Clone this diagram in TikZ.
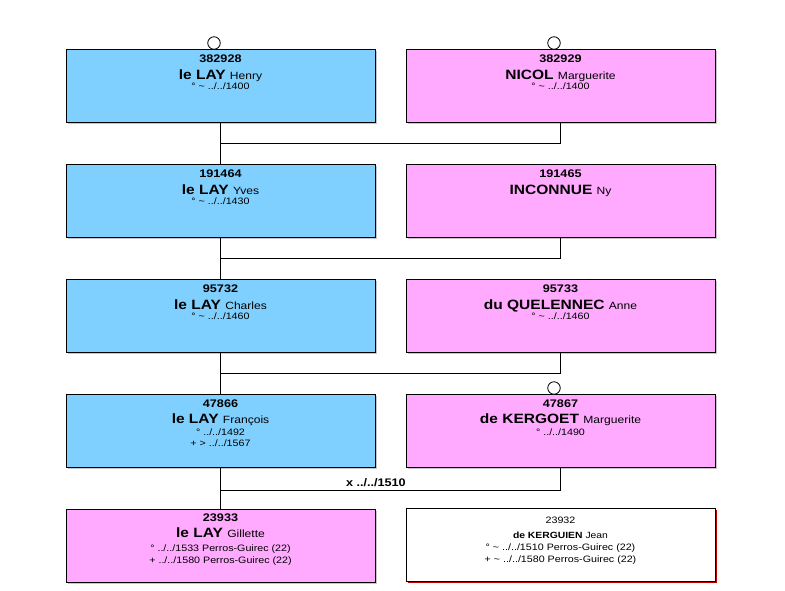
\documentclass[tikz,border=0pt]{standalone}
\usepackage{fontspec}
\setmainfont{Liberation Sans}[FakeStretch=1.15]
\usetikzlibrary{calc,shadows}
\definecolor{mblue}{RGB}{128,208,255}
\definecolor{mpink}{RGB}{255,170,255}
\newcommand\gnNum{\bfseries\fontsize{11}{13}\selectfont}
\newcommand\gnSur{\bfseries\fontsize{13.5}{15}\selectfont}
\newcommand\gnGiv{\mdseries\fontsize{10.5}{12}\selectfont}
\newcommand\gnDate{\mdseries\fontsize{9.3}{11}\selectfont}
\newcommand\gnSmall{\fontsize{9.3}{11}\selectfont}
\begin{document}
\begin{tikzpicture}[x=1pt,y=-1pt,
  person/.style={draw=black, line width=1pt, minimum width=309pt, minimum height=73pt,
    anchor=north west, inner sep=0pt, outer sep=0pt,
    copy shadow={shadow xshift=2pt, shadow yshift=-2pt, fill=black!22, draw=none}},
  male/.style={person, fill=mblue},
  female/.style={person, fill=mpink},
  plain/.style={draw=black, line width=1pt, minimum width=309pt, minimum height=73pt,
    anchor=north west, inner sep=0pt, outer sep=0pt, fill=white,
    copy shadow={shadow xshift=1.5pt, shadow yshift=-1.5pt, fill=red!75!black, draw=none}},
  txt/.style={anchor=base, inner sep=0pt, outer sep=0pt},
  link/.style={line width=1pt},
  ring/.style={circle, draw=black, line width=0.8pt, fill=white, minimum size=12.5pt, inner sep=0pt}]
\useasboundingbox (0,0) rectangle (785,590);
\fill[white] (0,0) rectangle (785,590);

% boxes
\node[male]   (b1) at (66,49)  {};
\node[female] (w1) at (406,49) {};
\node[male]   (b2) at (66,164) {};
\node[female] (w2) at (406,164) {};
\node[male]   (b3) at (66,279) {};
\node[female] (w3) at (406,279) {};
\node[male]   (b4) at (66,394) {};
\node[female] (w4) at (406,394) {};
\node[female] (b5) at (66,509) {};
\node[plain]  (w5) at (406,508) {};

% connectors
\draw[link] (b1.south) -- (b2.north);
\draw[link] (w1.south) |- ($(b1.south)!.5!(b2.north)$);
\draw[link] (b2.south) -- (b3.north);
\draw[link] (w2.south) |- ($(b2.south)!.5!(b3.north)$);
\draw[link] (b3.south) -- (b4.north);
\draw[link] (w3.south) |- ($(b3.south)!.5!(b4.north)$);
\draw[link] (b4.south) -- (b5.north);
\draw[link] (w4.south) |- ($(b4.south)!.55!(b5.north)$);
\node[txt, anchor=base west] (m4) at (346,486) {\bfseries\fontsize{11}{13}\selectfont x ../../1510};

% circles
\node[ring] (c1) at (214,43) {};
\node[ring] (c2) at (554,43) {};
\node[ring] (c3) at (554,388) {};

% texts row 1
\node[txt] (t1a) at ([yshift=-13pt]b1.north) {\gnNum 382928};
\node[txt] (t1b) at ([yshift=-30pt]b1.north) {\gnSur le LAY \gnGiv Henry};
\node[txt] (t1c) at ([yshift=-40.5pt]b1.north) {\gnDate ° \textasciitilde{} ../../1400};
\node[txt] (u1a) at ([yshift=-13pt]w1.north) {\gnNum 382929};
\node[txt] (u1b) at ([yshift=-30pt]w1.north) {\gnSur NICOL \gnGiv Marguerite};
\node[txt] (u1c) at ([yshift=-40.5pt]w1.north) {\gnDate ° \textasciitilde{} ../../1400};
% row 2
\node[txt] (t2a) at ([yshift=-13pt]b2.north) {\gnNum 191464};
\node[txt] (t2b) at ([yshift=-30pt]b2.north) {\gnSur le LAY \gnGiv Yves};
\node[txt] (t2c) at ([yshift=-40.5pt]b2.north) {\gnDate ° \textasciitilde{} ../../1430};
\node[txt] (u2a) at ([yshift=-13pt]w2.north) {\gnNum 191465};
\node[txt] (u2b) at ([yshift=-30pt]w2.north) {\gnSur INCONNUE \gnGiv Ny};
% row 3
\node[txt] (t3a) at ([yshift=-13pt]b3.north) {\gnNum 95732};
\node[txt] (t3b) at ([yshift=-30pt]b3.north) {\gnSur le LAY \gnGiv Charles};
\node[txt] (t3c) at ([yshift=-40.5pt]b3.north) {\gnDate ° \textasciitilde{} ../../1460};
\node[txt] (u3a) at ([yshift=-13pt]w3.north) {\gnNum 95733};
\node[txt] (u3b) at ([yshift=-30pt]w3.north) {\gnSur du QUELENNEC \gnGiv Anne};
\node[txt] (u3c) at ([yshift=-40.5pt]w3.north) {\gnDate ° \textasciitilde{} ../../1460};
% row 4
\node[txt] (t4a) at ([yshift=-13pt]b4.north) {\gnNum 47866};
\node[txt] (t4b) at ([yshift=-29.5pt]b4.north) {\gnSur le LAY \gnGiv François};
\node[txt] (t4c) at ([yshift=-41pt]b4.north) {\gnDate ° ../../1492};
\node[txt] (t4d) at ([yshift=-52pt]b4.north) {\gnDate + > ../../1567};
\node[txt] (u4a) at ([yshift=-13pt]w4.north) {\gnNum 47867};
\node[txt] (u4b) at ([yshift=-29.5pt]w4.north) {\gnSur de KERGOET \gnGiv Marguerite};
\node[txt] (u4c) at ([yshift=-41pt]w4.north) {\gnDate ° ../../1490};
% row 5
\node[txt] (t5a) at ([yshift=-12pt]b5.north) {\gnNum 23933};
\node[txt] (t5b) at ([yshift=-28pt]b5.north) {\gnSur le LAY \gnGiv Gillette};
\node[txt] (t5c) at ([yshift=-42pt]b5.north) {\gnDate ° ../../1533 Perros-Guirec (22)};
\node[txt] (t5d) at ([yshift=-54pt]b5.north) {\gnDate + ../../1580 Perros-Guirec (22)};
\node[txt] (u5a) at ([yshift=-15pt]w5.north) {\gnSmall 23932};
\node[txt] (u5b) at ([yshift=-30pt]w5.north) {\bfseries\fontsize{9}{11}\selectfont de KERGUIEN \mdseries Jean};
\node[txt] (u5c) at ([yshift=-42pt]w5.north) {\gnDate ° \textasciitilde{} ../../1510 Perros-Guirec (22)};
\node[txt] (u5d) at ([yshift=-54pt]w5.north) {\gnDate + \textasciitilde{} ../../1580 Perros-Guirec (22)};
\end{tikzpicture}
\end{document}
